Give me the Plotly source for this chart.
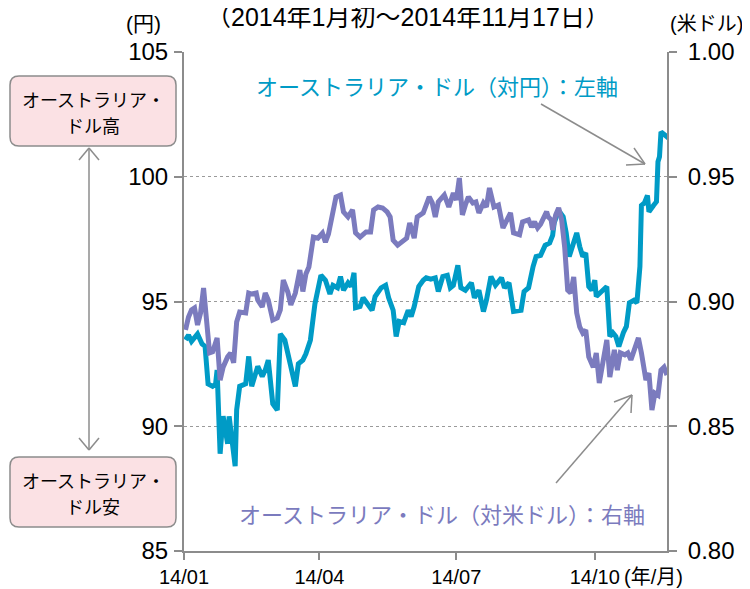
import pandas as pd
import plotly.graph_objects as go

# ---- data (days since 2014-01-01, values) ----
jpy_days = [1, 3, 5, 7, 9, 12, 14, 16, 19, 21, 22, 24, 26, 29, 30, 34, 35, 37, 41, 43, 45, 47, 49, 52, 54, 56, 59, 62,
            64, 67, 71, 74, 76, 79, 81, 84, 87, 91, 94, 97, 99, 102, 104, 106, 109, 111, 113, 114, 117, 119, 122, 125,
            127, 131, 134, 136, 139, 141, 143, 146, 149, 151, 153, 156, 159, 161, 164, 167, 169, 172, 175, 177, 179,
            182, 184, 187, 191, 193, 196, 199, 201, 204, 207, 211, 213, 216, 219, 222, 224, 226, 229, 232, 234, 237,
            240, 243, 245, 246, 249, 252, 254, 256, 259, 261, 263, 265, 267, 269, 271, 273, 274, 277, 281, 283, 285,
            287, 289, 292, 294, 296, 299, 301, 303, 304, 306, 308, 309, 312, 314, 315, 316, 317, 319, 322]
jpy_vals = [93.46, 93.65, 93.4, 93.55, 93.7, 93.3, 93.2, 91.7, 91.6, 91.7, 92.25, 88.9, 90.4, 89.3, 90.4, 88.4, 90.65,
            91.6, 91.7, 92.8, 91.6, 92.0, 92.4, 92.0, 92.25, 92.65, 90.9, 90.65, 93.7, 93.45, 92.25, 91.6, 92.5, 92.65,
            92.9, 93.45, 94.9, 96.05, 95.85, 95.3, 95.65, 95.55, 96.0, 95.45, 95.75, 95.6, 96.15, 94.75, 94.8, 95.15,
            94.9, 94.65, 95.2, 95.55, 95.65, 95.15, 94.65, 93.6, 94.2, 94.15, 94.65, 94.4, 94.8, 95.6, 95.85, 95.95,
            95.9, 95.95, 95.4, 96.0, 96.05, 95.55, 95.65, 96.45, 95.55, 95.45, 95.75, 95.15, 95.45, 94.6, 95.05, 96.0,
            95.65, 95.95, 95.55, 95.75, 94.6, 94.6, 94.65, 95.4, 95.55, 96.4, 96.8, 96.85, 97.25, 97.35, 97.65, 98.15,
            98.65, 98.4, 97.75, 96.8, 97.35, 97.75, 97.2, 96.8, 96.95, 95.6, 95.45, 95.85, 95.2, 95.35, 95.6, 93.6,
            93.75, 93.6, 93.2, 93.75, 94.0, 94.95, 95.05, 94.95, 96.4, 98.85, 98.95, 99.25, 98.6, 98.85, 99.0, 100.6,
            100.8, 101.8, 101.7, 101.55]

usd_days = [1, 3, 5, 7, 9, 11, 13, 15, 17, 19, 22, 24, 26, 29, 31, 33, 35, 37, 41, 43, 45, 48, 49, 52, 54, 56, 59, 62,
            64, 66, 69, 71, 74, 77, 79, 81, 83, 86, 89, 92, 94, 96, 99, 101, 104, 106, 109, 112, 114, 117, 121, 124,
            126, 129, 132, 135, 137, 139, 142, 145, 148, 150, 153, 155, 159, 163, 165, 167, 169, 173, 176, 179, 181,
            183, 185, 187, 189, 192, 194, 196, 199, 201, 203, 206, 209, 212, 215, 217, 219, 223, 225, 229, 231, 233,
            235, 237, 241, 242, 244, 245, 247, 249, 251, 253, 255, 257, 259, 261, 263, 265, 267, 269, 272, 274, 276,
            279, 281, 283, 286, 288, 290, 293, 295, 297, 299, 302, 304, 307, 309, 311, 313, 315, 317, 319, 321]
usd_vals = [0.8886, 0.8938, 0.8966, 0.8974, 0.8906, 0.8954, 0.9054, 0.8938, 0.8794, 0.8798, 0.8854, 0.8685, 0.8737,
            0.8778, 0.8794, 0.8754, 0.8918, 0.8958, 0.8954, 0.9034, 0.9030, 0.9034, 0.9006, 0.8978, 0.9034, 0.9006,
            0.8926, 0.8934, 0.8966, 0.9086, 0.9038, 0.8986, 0.9034, 0.9126, 0.9040, 0.9110, 0.9138, 0.9258, 0.9254,
            0.9274, 0.9238, 0.9270, 0.9367, 0.9419, 0.9427, 0.9359, 0.9339, 0.9367, 0.9275, 0.9258, 0.9279, 0.9279,
            0.9367, 0.9379, 0.9375, 0.9359, 0.9339, 0.9246, 0.9226, 0.9238, 0.9254, 0.9315, 0.9254, 0.9339, 0.9355,
            0.9419, 0.9395, 0.9339, 0.9399, 0.9427, 0.9379, 0.9435, 0.9407, 0.9495, 0.9347, 0.9387, 0.9419, 0.9395,
            0.9399, 0.9355, 0.9395, 0.9379, 0.9455, 0.9379, 0.9387, 0.9295, 0.9335, 0.9355, 0.9275, 0.9267, 0.9319,
            0.9327, 0.9299, 0.9319, 0.9295, 0.9310, 0.9360, 0.9340, 0.9327, 0.9287, 0.9347, 0.9375, 0.9327, 0.9218,
            0.9046, 0.9034, 0.9098, 0.8954, 0.8898, 0.8874, 0.8886, 0.8778, 0.8737, 0.8794, 0.8673, 0.8766, 0.8846,
            0.8697, 0.8806, 0.8725, 0.8794, 0.8786, 0.8794, 0.8766, 0.8806, 0.8854, 0.8794, 0.8685, 0.8713, 0.8565,
            0.8633, 0.8625, 0.8725, 0.8737, 0.8705]

x_tickvals = ["2014-01-01", "2014-04-01", "2014-07-01", "2014-10-01"]
x_ticktext = ["14/01", "14/04", "14/07", "14/10"]

start = pd.Timestamp("2014-01-01")
jpy_dates = start + pd.to_timedelta(jpy_days, unit="D")
usd_dates = start + pd.to_timedelta(usd_days, unit="D")

TEAL = "#009BC6"
PURPLE = "#7B7BBE"
GRAY = "#8C8C8C"
FONT = "Liberation Sans, Noto Sans CJK JP, sans-serif"

OFF = 8  # page body margin
W, H = 750 - OFF, 589 - OFF
# plot area in page pixels
L, R, T, B = 184, 667, 52, 551


def px(x):
    return (x - L) / (R - L)


def py(y):
    return (B - y) / (B - T)


fig = go.Figure()
fig.add_trace(go.Scatter(x=usd_dates, y=usd_vals, yaxis="y2", mode="lines",
                         line=dict(color=PURPLE, width=5), showlegend=False))
fig.add_trace(go.Scatter(x=jpy_dates, y=jpy_vals, mode="lines",
                         line=dict(color=TEAL, width=5), showlegend=False))

fig.update_layout(
    width=W, height=H,
    margin=dict(l=L - OFF, r=750 - R, t=T - OFF, b=589 - B),
    paper_bgcolor="white", plot_bgcolor="white",
    font=dict(family=FONT, size=24, color="black"),
    xaxis=dict(type="date", range=["2014-01-01", "2014-11-18"],
               tickvals=x_tickvals, ticktext=x_ticktext, automargin=False,
               showgrid=False, showline=True, linecolor=GRAY, linewidth=2,
               ticks="outside", ticklen=7, tickcolor=GRAY, tickwidth=1.5,
               ticklabelstandoff=0, zeroline=False, tickfont=dict(size=20)),
    yaxis=dict(range=[85, 105], tickvals=[85, 90, 95, 100, 105], automargin=False,
               showgrid=True, gridcolor="#9A9A9A", griddash="dot", gridwidth=1,
               showline=True, linecolor=GRAY, linewidth=2,
               ticks="outside", ticklen=8, tickcolor=GRAY, tickwidth=1.5,
               ticklabelstandoff=1, zeroline=False),
    yaxis2=dict(range=[0.80, 1.00], tickvals=[0.80, 0.85, 0.90, 0.95, 1.00], automargin=False,
                tickformat=".2f", overlaying="y", side="right",
                showgrid=False, showline=True, linecolor=GRAY, linewidth=2,
                ticks="outside", ticklen=8, tickcolor=GRAY, tickwidth=1.5,
                ticklabelstandoff=6, zeroline=False),
)

ann = []


def text(x, y, s, size=22, color="black", xanchor="center"):
    ann.append(dict(x=px(x), y=py(y), xref="paper", yref="paper", text=s, showarrow=False,
                    font=dict(size=size, color=color, family=FONT), xanchor=xanchor, yanchor="middle"))


text(408, 17, "（2014年1月初～2014年11月17日）", size=25)
text(143, 24, "(円)", size=21)
text(706, 24, "(米ドル)", size=20)
text(653, 577, "(年/月)", size=20)
text(437, 88, "オーストラリア・ドル（対円）：左軸", size=22, color=TEAL)
text(442, 515, "オーストラリア・ドル（対米ドル）：右軸", size=22, color=PURPLE)

# boxes
shapes = []


def rounded_box(x0, y0, x1, y1, r=9):
    X0, X1 = px(x0), px(x1)
    Y0, Y1 = py(y0), py(y1)
    rx = r / (R - L)
    ry = r / (B - T)
    path = (f"M {X0+rx},{Y0} L {X1-rx},{Y0} Q {X1},{Y0} {X1},{Y0-ry} "
            f"L {X1},{Y1+ry} Q {X1},{Y1} {X1-rx},{Y1} L {X0+rx},{Y1} "
            f"Q {X0},{Y1} {X0},{Y1+ry} L {X0},{Y0-ry} Q {X0},{Y0} {X0+rx},{Y0} Z")
    shapes.append(dict(type="path", path=path, xref="paper", yref="paper",
                       fillcolor="#FBE1E4", line=dict(color=GRAY, width=1.5), layer="above"))


def seg(x0, y0, x1, y1, w=1.5):
    shapes.append(dict(type="line", x0=px(x0), y0=py(y0), x1=px(x1), y1=py(y1),
                       xref="paper", yref="paper", line=dict(color=GRAY, width=w)))


rounded_box(10, 76, 176, 146)
rounded_box(10, 457, 176, 527)
text(93, 101, "オーストラリア・", size=18)
text(93, 127, "ドル高", size=18)
text(93, 482, "オーストラリア・", size=18)
text(93, 508, "ドル安", size=18)

# double arrow
seg(89, 148, 89, 450)
seg(89, 148, 79, 160)
seg(89, 148, 99, 160)
seg(89, 450, 79, 438)
seg(89, 450, 99, 438)

# arrow to teal line
seg(541, 104, 645, 164)
seg(645, 164, 634, 148)
seg(645, 164, 626, 165)
# arrow to purple line
seg(556, 483, 632, 395)
seg(632, 395, 614, 402)
seg(632, 395, 631, 413)

fig.update_layout(annotations=ann, shapes=shapes)
fig.write_html("out.html")
